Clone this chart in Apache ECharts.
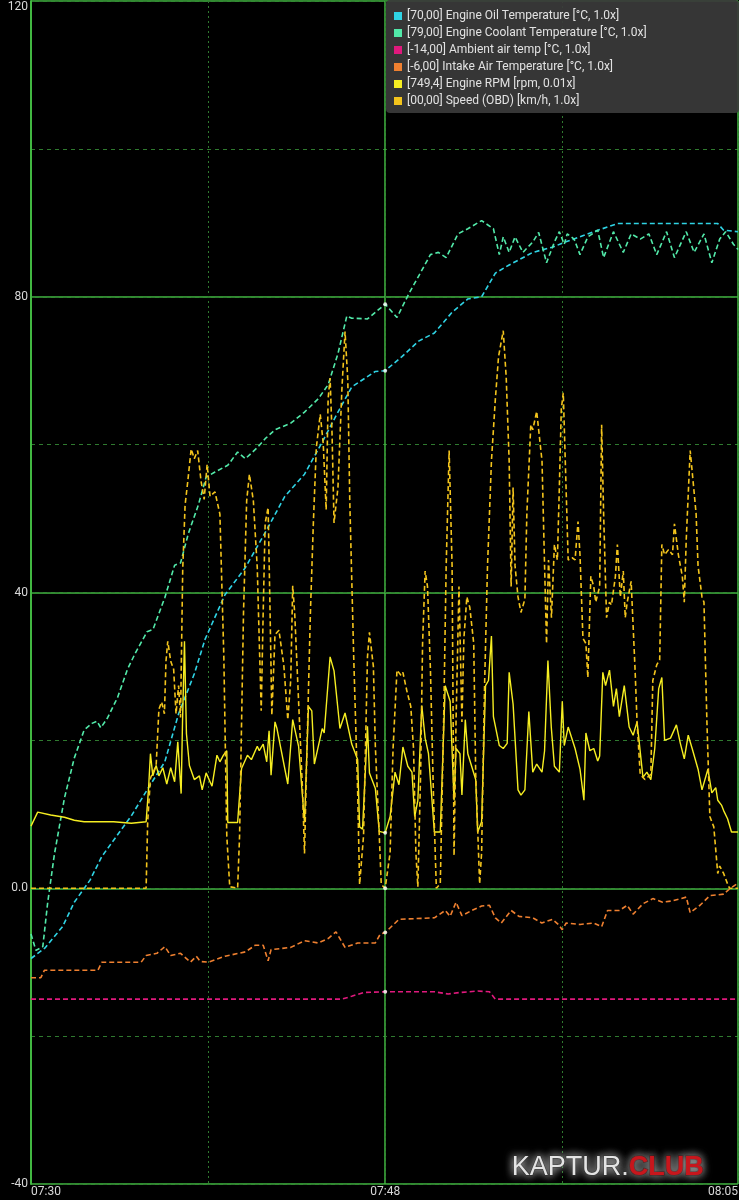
<!DOCTYPE html>
<html><head><meta charset="utf-8">
<script src="https://cdn.jsdelivr.net/npm/echarts@6/dist/echarts.min.js"></script>
<style>html,body{margin:0;padding:0;background:#000;}#c{width:739px;height:1200px;}</style>
</head><body><div id="c"></div>
<script>
// time in minutes after 07:30, values in chart units
const startMinutes = 7 * 60 + 30;
const xMax = 35.93;
const yTicks = [-40, 0, 40, 80, 120];

const seriesNames = [
  '[70,00] Engine Oil Temperature [°C, 1.0x]',
  '[79,00] Engine Coolant Temperature [°C, 1.0x]',
  '[-14,00] Ambient air temp [°C, 1.0x]',
  '[-6,00] Intake Air Temperature [°C, 1.0x]',
  '[749,4] Engine RPM [rpm, 0.01x]',
  '[00,00] Speed (OBD) [km/h, 1.0x]'
];

const oilTemp = [[0,-9.5],[0.7,-8.1],[1.6,-5.2],[2.2,-1.9],[3.0,1.1],[3.6,4.3],[4.5,7.6],[5.1,9.8],[5.9,13.3],[6.8,17.1],[7.5,23.6],[8.3,29.0],[8.85,33.7],[9.86,39.7],[10.88,43.3],[11.9,48.1],[12.9,53.0],[13.9,56.0],[14.77,60.2],[15.6,64.4],[16.3,67.8],[16.98,69.0],[17.5,69.9],[18,70],[18.85,71.9],[19.7,74.0],[20.5,75.1],[21.4,77.9],[22.2,79.7],[22.9,80.0],[23.6,83.2],[24.3,84.3],[24.8,85.0],[25.5,86.0],[26.5,86.7],[27.15,87.4],[28.6,88.8],[29.8,89.9],[34.9,89.9],[35.2,89.0],[35.93,88.8]];

const coolantTemp = [[0,-6.2],[0.25,-8.4],[0.6,-7.9],[0.85,-1.9],[1.19,4.6],[1.7,12.2],[2.2,17.6],[2.7,21.4],[3.1,22.3],[3.35,22.6],[3.55,21.7],[3.9,23.1],[4.4,25.8],[4.9,29.6],[5.3,31.8],[5.9,34.7],[6.2,35.0],[6.8,39.3],[7.3,43.7],[7.6,44.0],[8.0,48.0],[8.5,51.8],[8.9,55.6],[9.35,56.3],[10.0,57.2],[10.5,59.0],[10.9,58.1],[11.5,59.6],[11.9,60.8],[12.4,62.0],[13.2,62.9],[13.9,64.4],[14.6,66.2],[15.1,68.1],[15.6,72.3],[16.05,77.4],[16.3,77.1],[17.1,77.0],[18,79],[18.6,77.2],[19.2,80.4],[19.7,82.8],[20.3,85.7],[20.7,86.0],[21.1,85.3],[21.7,88.5],[22.2,89.2],[22.9,90.3],[23.5,89.2],[23.8,85.7],[24.0,88.1],[24.3,86.0],[24.6,88.1],[25.0,86.0],[25.5,87.4],[25.8,88.7],[26.2,84.6],[26.6,87.4],[26.85,88.8],[27.1,87.1],[27.25,88.5],[27.6,87.8],[27.9,85.7],[28.3,88.1],[28.8,89.0],[29.1,85.3],[29.6,88.8],[30.1,86.0],[30.5,88.5],[30.96,87.8],[31.4,88.5],[31.8,85.7],[32.3,88.8],[32.7,85.3],[33.3,88.8],[33.7,86.0],[34.2,88.5],[34.6,84.6],[35.0,87.8],[35.3,88.8],[35.7,87.1],[35.93,86.4]];

const ambientTemp = [[0,-15],[15.8,-15],[16.3,-14.6],[16.9,-14.1],[18,-14],[20.5,-14],[21.2,-14.3],[21.8,-14.1],[22.7,-13.9],[23.3,-14],[23.6,-15],[35.93,-15]];

const intakeTemp = [[0,-12.1],[0.5,-12.1],[0.68,-11.1],[3.4,-11.1],[3.6,-10.0],[5.6,-10.0],[5.85,-9.1],[6.4,-8.8],[6.8,-7.9],[7.1,-9.1],[7.6,-8.8],[8.1,-10.0],[8.4,-9.2],[8.6,-9.9],[9.0,-10.0],[9.86,-9.2],[10.9,-8.6],[11.4,-7.7],[11.8,-7.7],[12.05,-9.8],[12.2,-8.3],[13.2,-8.0],[13.9,-7.1],[14.6,-7.4],[15.1,-6.8],[15.5,-5.9],[15.96,-8.0],[16.6,-7.4],[17.5,-7.4],[17.75,-6.2],[18,-6.0],[18.7,-4.2],[20.5,-4.0],[21.05,-3.0],[21.3,-3.8],[21.6,-1.9],[21.9,-3.7],[22.4,-3.0],[22.9,-2.4],[23.3,-2.3],[23.6,-4.0],[23.9,-4.7],[24.4,-3.0],[24.8,-3.8],[25.5,-4.0],[25.96,-4.7],[26.5,-4.2],[26.8,-4.9],[27.0,-5.6],[27.2,-4.7],[27.9,-4.9],[28.6,-4.7],[29.0,-5.2],[29.3,-3.0],[29.9,-3.0],[30.3,-2.3],[30.6,-3.5],[31.1,-2.1],[31.6,-1.4],[32.1,-1.9],[32.6,-1.7],[33.3,-1.2],[33.5,-3.3],[34.0,-2.3],[34.5,-1.0],[35.2,-0.8],[35.5,-0.1],[35.93,0.7]];

const engineRpm = [[0,8.4],[0.34,10.3],[1.0,9.9],[1.7,9.6],[2.2,9.2],[2.7,9.0],[4.2,9.0],[5.1,8.8],[5.85,9.0],[5.97,13.3],[6.07,18.2],[6.19,15.2],[6.36,16.6],[6.5,15.2],[6.7,16.3],[6.9,14.1],[7.1,16.3],[7.3,14.4],[7.46,19.8],[7.63,12.8],[7.7,22.5],[7.8,33.4],[7.9,20.9],[8.05,16.6],[8.3,14.7],[8.56,15.2],[8.7,13.3],[8.9,15.6],[9.2,13.8],[9.45,18.0],[9.6,17.1],[9.78,18.0],[9.95,18.6],[10.0,8.9],[10.5,8.9],[10.7,16.2],[11.0,18.0],[11.2,17.4],[11.5,19.2],[11.6,18.6],[11.8,19.5],[11.98,17.1],[12.1,21.3],[12.2,15.3],[12.4,22.5],[12.5,21.6],[13.05,14.1],[13.3,22.8],[13.6,19.2],[13.9,8.9],[14.1,24.6],[14.27,24.0],[14.4,16.8],[14.8,21.6],[14.9,21.0],[15.2,31.3],[15.4,29.4],[15.7,21.6],[15.96,23.7],[16.3,19.5],[16.6,17.4],[16.7,8.3],[16.85,8.0],[17.1,21.9],[17.2,15.6],[17.5,13.5],[17.7,7.7],[18,7.49],[18.25,9.7],[18.5,15.7],[18.7,14.0],[18.9,19.1],[19.15,16.5],[19.36,15.7],[19.5,9.7],[19.66,11.9],[19.86,24.7],[20.03,20.3],[20.2,18.2],[20.5,7.6],[20.8,7.6],[21.05,27.4],[21.3,25.3],[21.5,11.9],[21.6,18.9],[21.8,18.2],[21.9,12.6],[22.07,22.8],[22.2,18.2],[22.6,14.7],[22.7,7.6],[22.9,9.0],[23.1,27.4],[23.25,28.1],[23.4,34.1],[23.5,23.2],[23.8,19.3],[24.0,18.9],[24.2,19.6],[24.3,29.2],[24.5,24.9],[24.75,13.3],[24.9,12.6],[25.1,13.3],[25.3,23.9],[25.5,15.7],[25.7,16.8],[25.97,15.7],[26.1,18.6],[26.27,30.8],[26.44,21.8],[26.6,16.5],[26.85,15.7],[27.0,25.3],[27.1,19.3],[27.3,21.8],[27.65,18.9],[27.9,16.1],[28.1,11.9],[28.2,21.0],[28.4,18.6],[28.6,18.9],[28.8,17.2],[28.9,17.9],[29.06,29.2],[29.2,27.4],[29.4,29.5],[29.6,24.6],[29.75,27.0],[29.9,23.2],[30.15,27.4],[30.4,21.8],[30.6,20.7],[30.8,22.5],[31.1,15.0],[31.3,15.7],[31.5,14.7],[31.7,18.9],[31.9,27.0],[32.06,28.5],[32.2,20.0],[32.5,20.3],[32.8,22.1],[33.0,19.6],[33.2,17.5],[33.4,20.7],[33.6,18.9],[33.9,16.1],[34.1,13.3],[34.2,13.3],[34.4,16.1],[34.6,12.9],[34.8,13.6],[34.9,11.9],[35.1,11.2],[35.2,10.5],[35.4,9.4],[35.6,7.6],[35.93,7.6]];

const speedObd = [[0,0],[5.85,0],[5.93,9.0],[6.07,14.9],[6.36,16.6],[6.5,24.2],[6.64,25.2],[6.78,23.6],[6.86,30.7],[6.95,33.4],[7.1,30.7],[7.25,29.6],[7.37,23.6],[7.5,27.4],[7.6,23.1],[7.71,43.1],[7.83,51.8],[7.97,55.1],[8.14,59.4],[8.3,58.1],[8.47,59.2],[8.64,55.1],[8.8,52.6],[8.95,57.3],[9.1,53.0],[9.35,53.6],[9.6,50.6],[9.8,31.3],[9.95,7.1],[10.1,0.2],[10.5,0],[10.6,7.1],[10.8,37.3],[10.96,52.4],[11.1,56.0],[11.3,52.4],[11.5,43.3],[11.56,37.3],[11.7,24.0],[11.8,37.3],[11.9,49.4],[12.05,51.5],[12.15,37.3],[12.24,23.4],[12.4,34.3],[12.6,34.9],[12.85,30.1],[13.05,22.8],[13.2,28.2],[13.3,40.9],[13.4,37.3],[13.6,25.2],[13.8,13.2],[13.9,4.7],[14.0,16.2],[14.2,37.3],[14.35,49.4],[14.5,59.6],[14.7,64.1],[14.85,60.2],[15.0,51.2],[15.1,66.2],[15.2,69.0],[15.3,61.4],[15.4,49.4],[15.6,54.2],[15.8,67.5],[15.96,75.3],[16.1,68.7],[16.2,52.4],[16.4,31.3],[16.6,13.2],[16.7,0.5],[16.9,7.1],[17.1,31.3],[17.2,34.6],[17.4,30.0],[17.5,19.2],[17.7,7.1],[17.8,0.5],[18,0],[18.08,0],[18.25,4.8],[18.4,18.9],[18.6,29.5],[18.8,28.8],[18.9,29.2],[19.1,26.7],[19.3,24.6],[19.44,18.9],[19.56,4.8],[19.66,0.2],[19.8,15.4],[19.9,33.1],[20.03,42.9],[20.15,40.8],[20.3,29.5],[20.46,11.9],[20.6,0],[20.8,0.6],[20.97,22.5],[21.1,43.6],[21.25,59.2],[21.4,43.6],[21.5,4.4],[21.6,22.5],[21.75,40.8],[21.9,22.5],[22.0,33.8],[22.15,39.4],[22.3,38.0],[22.5,33.1],[22.6,15.4],[22.8,0.6],[22.9,4.8],[23.05,27.4],[23.2,43.6],[23.4,57.8],[23.6,66.2],[23.76,71.9],[24.0,75.4],[24.15,69.1],[24.3,57.8],[24.4,40.8],[24.5,54.2],[24.6,43.6],[24.75,39.4],[24.9,37.3],[25.1,39.1],[25.2,50.7],[25.4,62.7],[25.5,62.0],[25.7,64.5],[25.8,62.0],[25.97,57.8],[26.1,43.6],[26.2,33.1],[26.3,44.4],[26.45,36.6],[26.6,46.5],[26.75,44.4],[26.85,54.2],[26.95,64.8],[27.05,67.0],[27.2,53.5],[27.3,44.4],[27.5,44.7],[27.65,44.4],[27.8,49.6],[27.9,45.1],[28.05,33.8],[28.2,33.1],[28.3,28.5],[28.45,42.2],[28.6,40.8],[28.7,38.7],[28.9,40.8],[29.0,62.7],[29.1,50.7],[29.25,36.6],[29.4,38.7],[29.5,38.3],[29.7,42.2],[29.8,46.5],[29.95,39.4],[30.1,42.9],[30.2,36.6],[30.3,38.7],[30.5,41.5],[30.7,29.5],[30.8,22.5],[30.96,15.4],[31.2,14.7],[31.5,15.4],[31.6,28.1],[31.8,30.2],[31.95,30.9],[32.06,46.5],[32.2,45.1],[32.4,45.8],[32.6,45.1],[32.7,49.3],[32.9,45.1],[33.1,42.2],[33.2,38.7],[33.3,47.2],[33.5,59.2],[33.6,56.4],[33.8,50.7],[33.9,43.6],[34.1,39.4],[34.2,38.7],[34.35,22.5],[34.5,9.7],[34.7,8.3],[34.9,2.0],[35.0,3.0],[35.2,2.0],[35.4,0.6],[35.5,0],[35.93,0]];

// cursor readout at 07:48
const cursorTime = 18;
const cursorValues = [70, 79, -14, -6, 7.494, 0];

const colors = ['#2fd3e4', '#52e9a9', '#e0197d', '#ef8030', '#f6ee22', '#f3c41c'];
const lineData = [oilTemp, coolantTemp, ambientTemp, intakeTemp, engineRpm, speedObd];
const solid = [false, false, false, false, true, false];

function fmtTime(v) {
  const m = Math.floor(startMinutes + v + 1e-6);
  const h = Math.floor(m / 60), mm = m % 60;
  return (h < 10 ? '0' : '') + h + ':' + (mm < 10 ? '0' : '') + mm;
}

const FONT = 'Roboto, "Noto Sans", sans-serif';
const WM_FONT = '"Liberation Sans", Arial, sans-serif';
const chart = echarts.init(document.getElementById('c'), null, {renderer: 'canvas'});

const series = lineData.map((d, i) => ({
  name: seriesNames[i],
  type: 'line',
  data: d,
  showSymbol: false,
  symbol: 'none',
  color: colors[i],
  lineStyle: {width: solid[i] ? 1.4 : 1.6, type: solid[i] ? 'solid' : [5, 3], color: colors[i]},
  animation: false,
  z: 2
}));
series.push({
  name: 'cursor',
  type: 'scatter',
  data: cursorValues.map(v => [cursorTime, v]),
  symbolSize: 4,
  itemStyle: {color: '#ffffff'},
  animation: false,
  z: 5
});

chart.setOption({
  backgroundColor: '#000000',
  animation: false,
  textStyle: {fontFamily: FONT},
  grid: {left: 31, right: 1, top: 1, bottom: 16, containLabel: false, outerBoundsMode: 'none'},
  legend: {
    data: seriesNames,
    orient: 'vertical',
    left: 388, top: 1,
    padding: [8, 8, 5, 6],
    icon: 'rect',
    itemWidth: 8, itemHeight: 8,
    itemGap: 3,
    selectedMode: false,
    textStyle: {color: '#e2e2e2', fontSize: 12, fontFamily: FONT, lineHeight: 14},
    z: 6
  },
  graphic: [
    {type: 'rect', left: 386, top: 0, z: 4, shape: {width: 353, height: 113, r: 4},
     style: {fill: 'rgba(58,58,58,0.93)'}},
    {type: 'text', left: 511, top: 1153, z: 10,
     style: {
       text: '{a|KAPTUR.}{b|CLUB}',
       rich: {
         a: {fill: '#e4e4e4', fontSize: 27, fontFamily: WM_FONT, stroke: '#1a1a1a', lineWidth: 1.5, textShadowColor: 'rgba(200,200,200,0.85)', textShadowBlur: 9},
         b: {fill: '#c8161c', fontSize: 27, fontWeight: 'bold', fontFamily: WM_FONT, stroke: '#2a0000', lineWidth: 1.5, textShadowColor: 'rgba(200,200,200,0.85)', textShadowBlur: 9}
       }
     }}
  ],
  xAxis: [
    {type: 'value', min: 0, max: xMax, interval: 18,
     axisLine: {show: false}, axisTick: {show: false},
     axisLabel: {color: '#d8d8d8', fontSize: 12, margin: 2, formatter: fmtTime,
                 showMinLabel: true, showMaxLabel: true, alignMinLabel: 'left', alignMaxLabel: 'right'},
     splitLine: {show: true, lineStyle: {color: '#42b842', width: 1.5, type: 'solid'}}},
    {type: 'value', min: 0, max: xMax, interval: 9,
     axisLine: {show: false}, axisTick: {show: false}, axisLabel: {show: false},
     splitLine: {show: true, lineStyle: {color: '#2f7a2f', width: 1, type: [2, 3]}}}
  ],
  yAxis: [
    {type: 'value', min: -40, max: 120, interval: 40,
     axisLine: {show: true, lineStyle: {color: '#42b842', width: 2}}, axisTick: {show: false},
     axisLabel: {color: '#d8d8d8', fontSize: 12, margin: 3,
                 formatter: v => (v === 0 ? '0.0' : String(v)),
                 verticalAlignMaxLabel: 'top'},
     splitLine: {show: true, lineStyle: {color: '#42b842', width: 1.5, type: 'solid'}}},
    {type: 'value', min: -40, max: 120, interval: 20,
     axisLine: {show: false}, axisTick: {show: false}, axisLabel: {show: false},
     splitLine: {show: true, lineStyle: {color: '#2f7a2f', width: 1, type: [4, 4]}}}
  ],
  series: series
});
</script>
</body></html>
